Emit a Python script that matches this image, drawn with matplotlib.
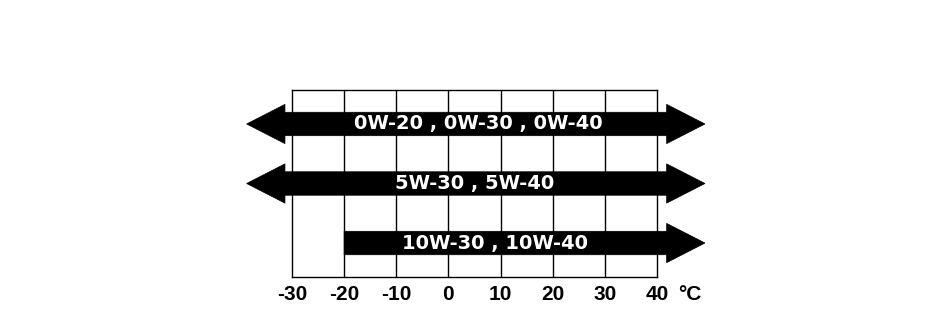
import matplotlib
matplotlib.use("Agg")
import matplotlib.pyplot as plt
from matplotlib.patches import Polygon

# Data
grades = ["10W-30 , 10W-40", "5W-30 , 5W-40", "0W-20 , 0W-30 , 0W-40"]
temp_low = [-20, -38.7, -38.7]      # lower end of range (arrow tip if open-ended)
temp_high = [49.2, 49.2, 49.2]      # upper end of range (arrow tip)
open_low = [False, True, True]
open_high = [True, True, True]
label_x = [8.9, 5.0, 5.7]
ticks = [-30, -20, -10, 0, 10, 20, 30, 40]
tick_labels = ["-30", "-20", "-10", "0", "10", "20", "30", "40"]
unit = "°C"

fig = plt.figure(figsize=(9.5, 3.19), dpi=100)
ax = fig.add_axes([292/950, 1-277/319, 365/950, 187/319])
ax.set_xlim(-30, 40)
ax.set_ylim(-0.571, 2.571)

for s in ax.spines.values():
    s.set_linewidth(1.0)
    s.set_color("black")
for t in ticks[1:-1]:
    ax.axvline(t, color="black", lw=1.0, zorder=1)

ax.set_xticks(ticks)
ax.set_xticklabels(tick_labels, fontfamily="Liberation Sans", fontweight="bold", fontsize=15)
ax.tick_params(axis="x", length=0, pad=6)
ax.set_yticks([])

body = 0.197
head = 0.33
hlen = 7.35
for i, g in enumerate(grades):
    lo, hi = temp_low[i], temp_high[i]
    pts = []
    # top edge from left
    if open_low[i]:
        pts += [(lo, i), (lo + hlen, i + head), (lo + hlen, i + body)]
    else:
        pts += [(lo, i - body), (lo, i + body)]
    if open_high[i]:
        pts += [(hi - hlen, i + body), (hi - hlen, i + head), (hi, i), (hi - hlen, i - head), (hi - hlen, i - body)]
    else:
        pts += [(hi, i + body), (hi, i - body)]
    if open_low[i]:
        pts += [(lo + hlen, i - body), (lo + hlen, i - head)]
    else:
        pts += []
    poly = Polygon(pts, closed=True, facecolor="black", edgecolor="black", lw=0.5,
                   clip_on=False, zorder=3)
    ax.add_patch(poly)
    ax.text(label_x[i], i, g, color="white", fontfamily="DejaVu Sans", fontweight="bold",
            fontsize=14, ha="center", va="center", zorder=4)

ax.text(46.2, -0.571, unit, fontfamily="Liberation Sans", fontweight="bold", fontsize=15,
        ha="center", va="top", transform=ax.transData, clip_on=False)
# align unit with tick labels via same offset as tick pad
import matplotlib.transforms as mtransforms
txt = ax.texts[-1]
txt.set_transform(ax.transData + mtransforms.ScaledTranslation(0, -6/72, fig.dpi_scale_trans))

fig.savefig("out.png", dpi=100)
